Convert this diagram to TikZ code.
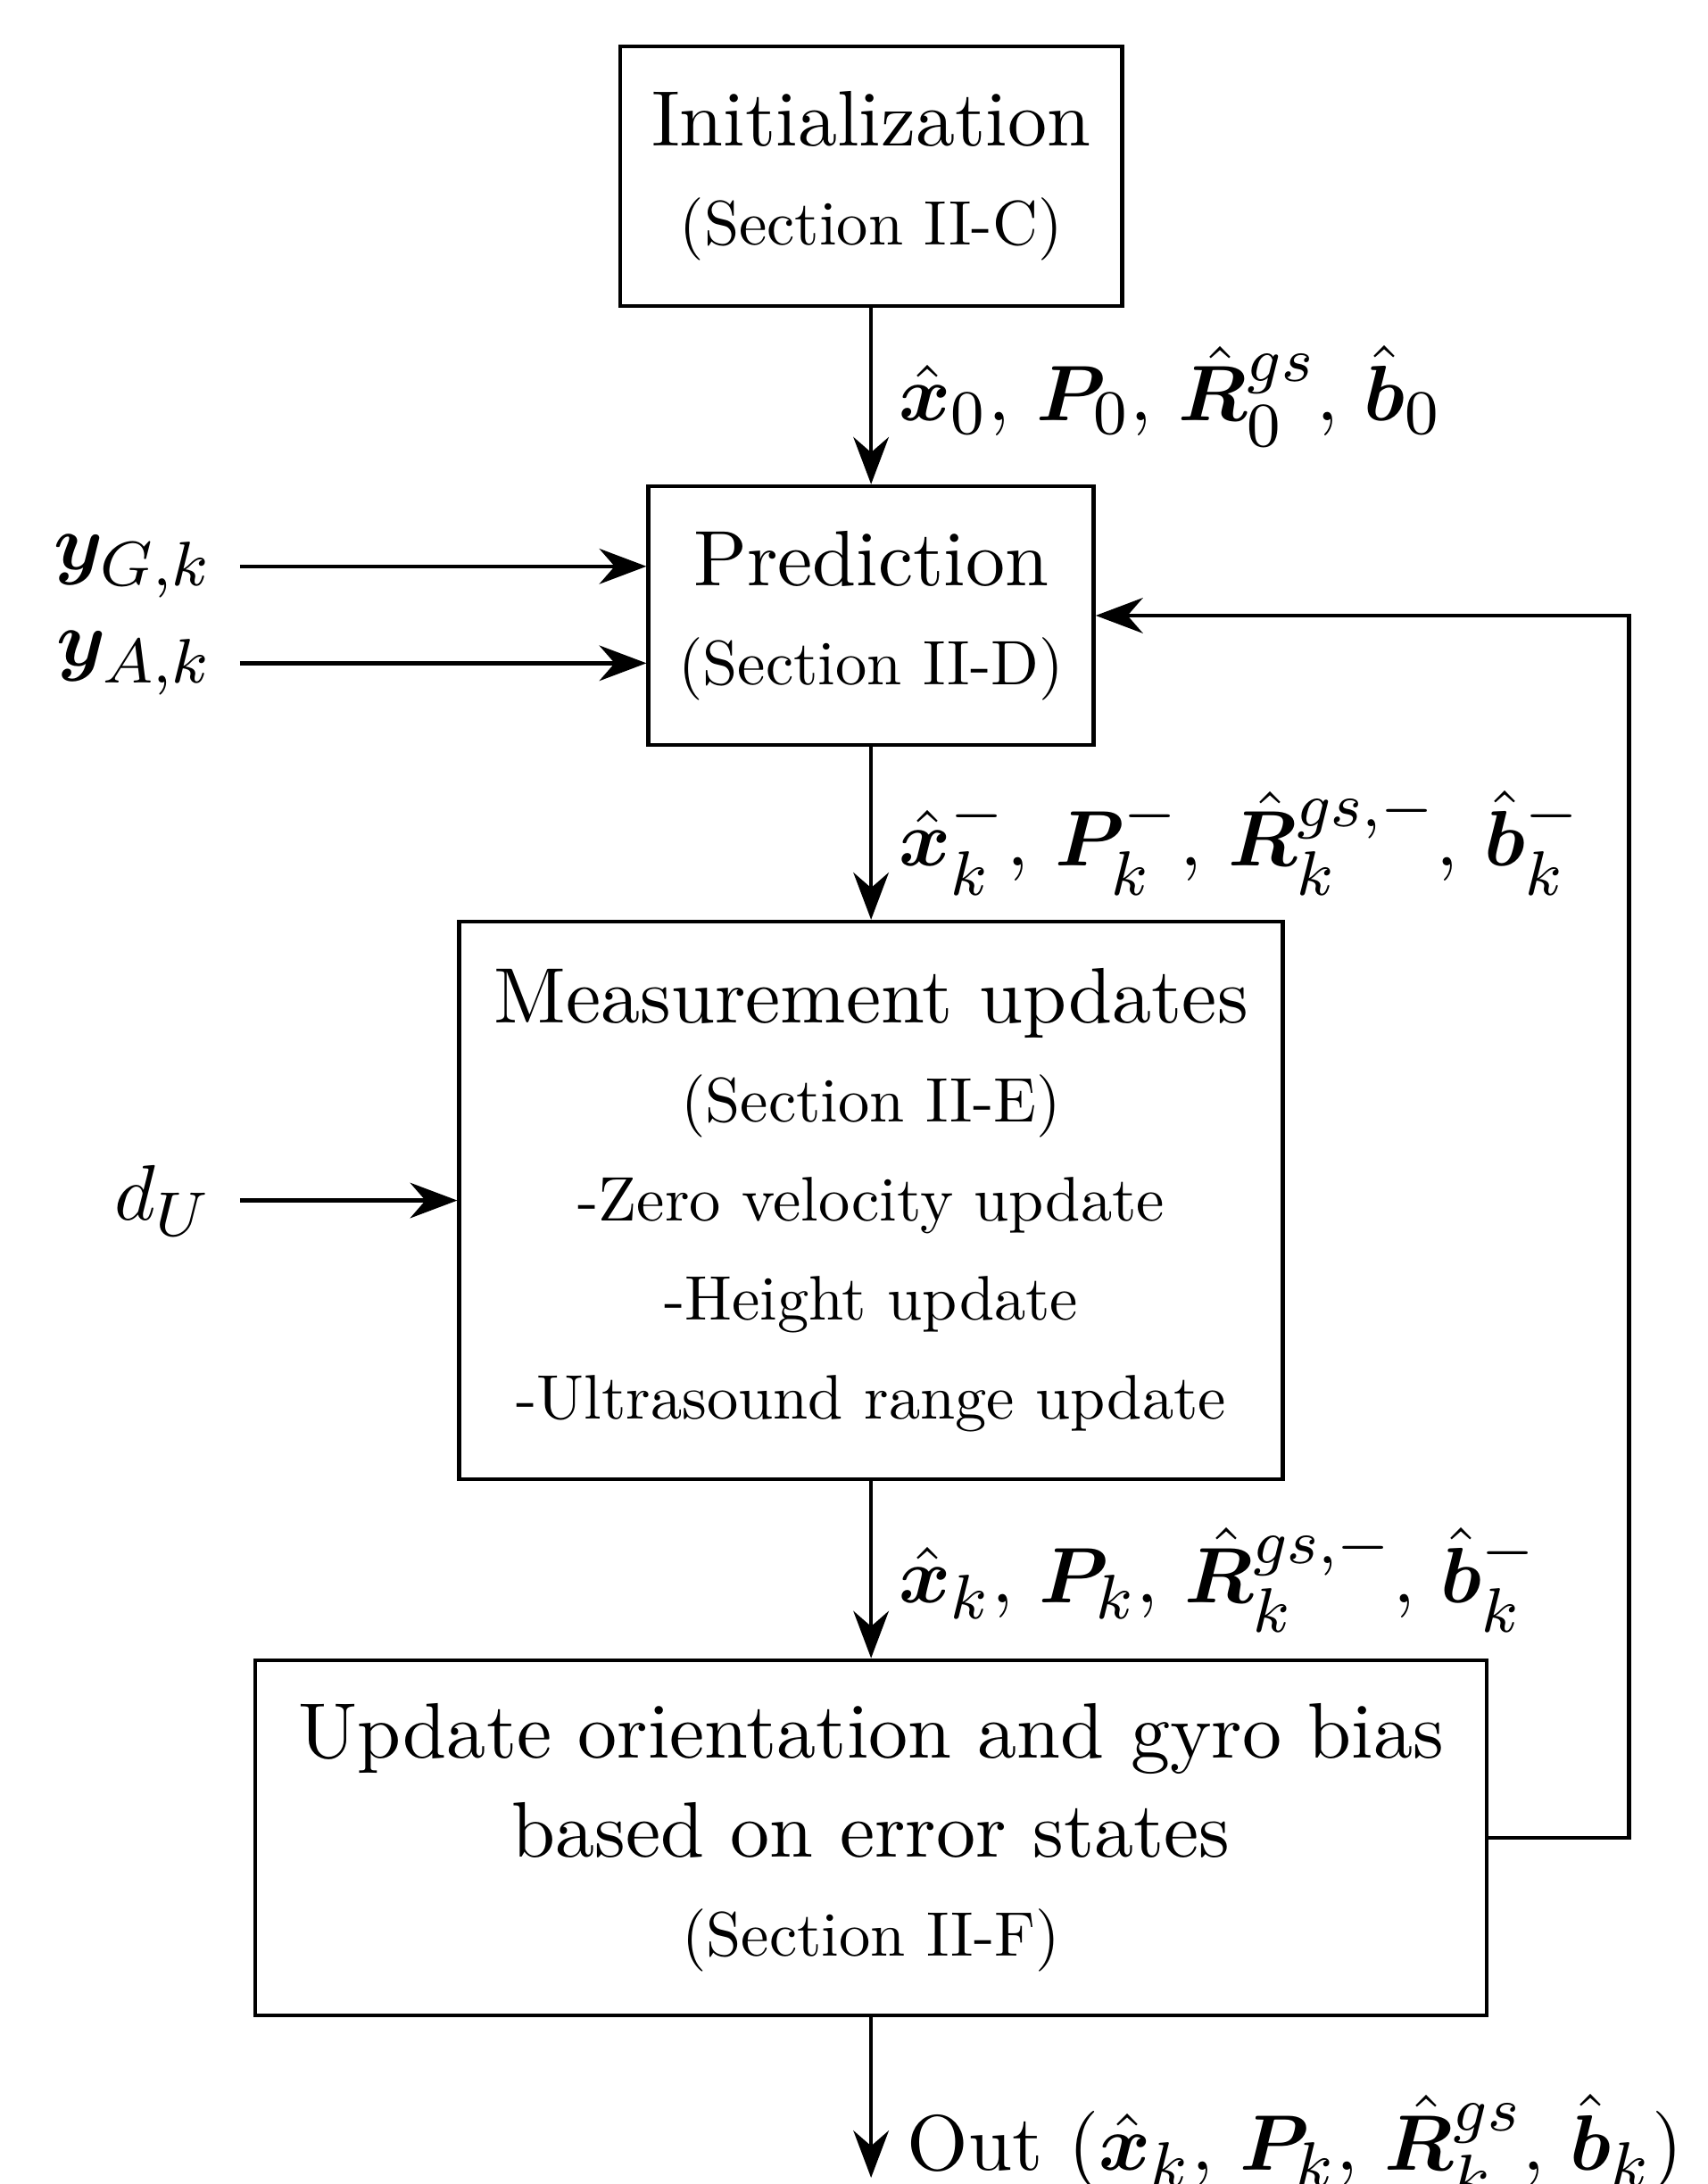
\documentclass[tikz,border=0pt]{standalone}
\usepackage{amsmath}
\usepackage{bm}
\usetikzlibrary{arrows.meta}
\DeclareMathSizes{10}{10}{8}{6}
\newcommand{\boxnote}[1]{\scalebox{.8}{#1}}

\begin{document}
\begin{tikzpicture}[line width=.5pt,>={Stealth[length=6pt,width=4.5pt]},
    box/.style={draw,align=center,font=\fontsize{10}{12.6}\selectfont}]
            \useasboundingbox (0,0) rectangle (7.637,-9.768);
            \draw (3.895,-0.788) node[box,minimum width=2.246cm,
            minimum height=1.161cm] (Init) {Initialization\\
            \boxnote{(Section II-C)}};
            \draw (3.895,-2.753) node[box,minimum width=1.991cm,
            minimum height=1.157cm] (Pred) {Prediction\\
            \boxnote{(Section II-D)}};
            \draw (3.895,-5.369) node[box,minimum width=3.683cm,
            minimum height=2.494cm] (Meas) {Measurement updates\\
            \boxnote{(Section II-E)}\\
            \boxnote{-Zero velocity update}\\
            \boxnote{-Height update}\\
            \boxnote{-Ultrasound range update}};
            \draw (3.895,-8.219) node[box,minimum width=5.506cm,
            minimum height=1.588cm] (Upd) {Update orientation and gyro bias\\
            based on error states\\
            \boxnote{(Section II-F)}};
            \draw (1.073,-2.533) node[anchor=east] (yG) {$\bm{y}_{G,k}$};
            \draw (1.073,-2.966) node[anchor=east] (yA) {$\bm{y}_{A,k}$};
            \draw (1.073,-5.369) node[anchor=east] (dU) {$d_U$};
            \coordinate (Out) at (3.895,-9.74);

            \draw[->] (Init)--(Pred) node[right,pos=.5]
            {$\hat{\bm{x}}_0,\,\bm{P}_0,\,\hat{\bm{R}}_0^{gs},\,\hat{\bm{b}}_0$};
            \draw[->] (Pred)--(Meas) node[right,pos=.55]
            {$\hat{\bm{x}}_k^-,\,\bm{P}_k^-,\,\hat{\bm{R}}_k^{gs,-},\,\hat{\bm{b}}_k^-$};
            \draw[->] (Meas)--(Upd) node[right,pos=.55]
            {$\hat{\bm{x}}_k,\,\bm{P}_k,\,\hat{\bm{R}}_k^{gs,-},\,\hat{\bm{b}}_k^-$};
            \draw[->] (Upd)--(Out) node[anchor=base west,xshift=1pt,yshift=1pt]
            {Out $(\hat{\bm{x}}_k,\,\bm{P}_k,\,\hat{\bm{R}}_k^{gs},\,\hat{\bm{b}}_k)$};
            \draw[->] (yG)--(yG-|Pred.west);
            \draw[->] (yA)--(yA-|Pred.west);
            \draw[->] (dU)--(Meas);
            \draw[->] (Upd.east)--++(0.627,0)|-(Pred.east);
\end{tikzpicture}
\end{document}
